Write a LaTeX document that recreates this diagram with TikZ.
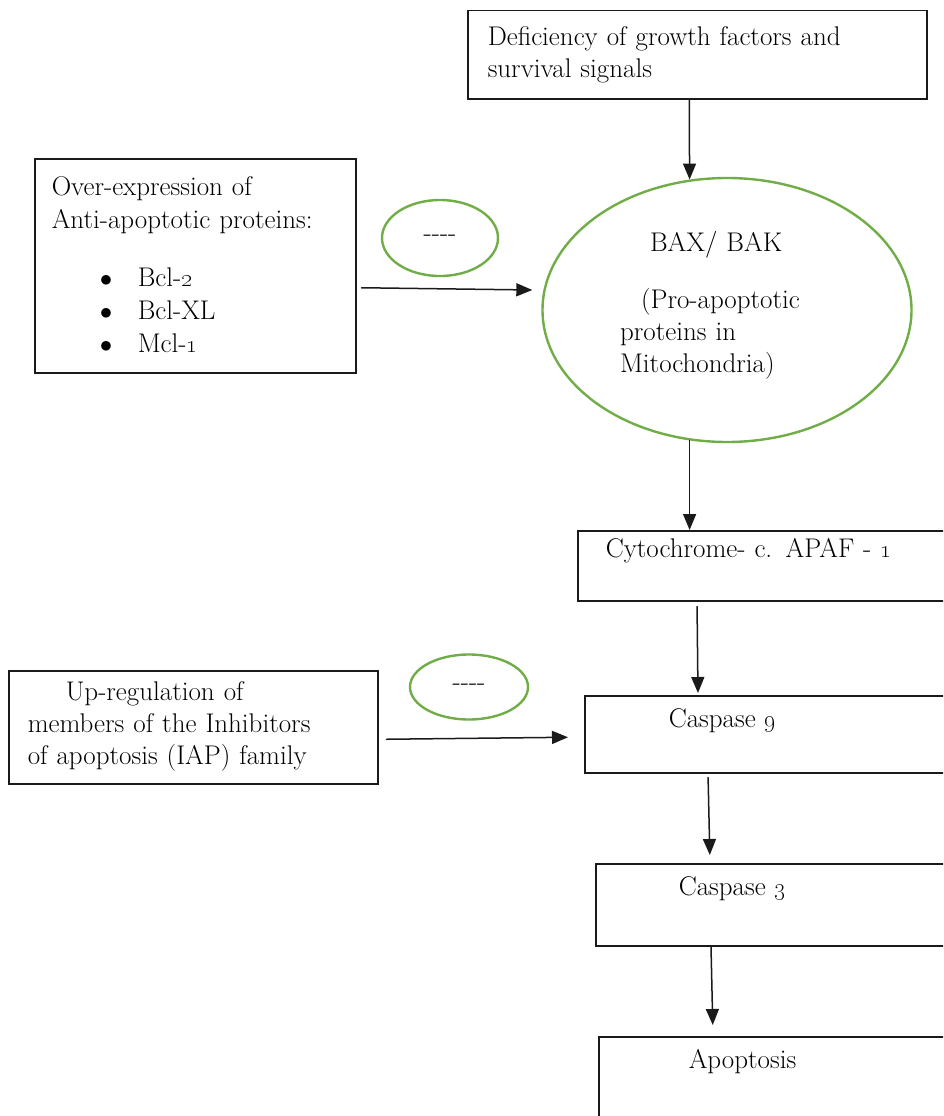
\documentclass[tikz,border=0pt]{standalone}
\usetikzlibrary{arrows.meta,calc,shapes.geometric}
\definecolor{apoGreen}{HTML}{70AD47}
\definecolor{apoDark}{HTML}{1A1A1A}

\begin{document}
\begin{tikzpicture}[x=1pt, y=-1pt, line cap=round,
    font=\fontsize{27}{32}\selectfont,
    apoBox/.style={draw=apoDark, line width=1.5pt, anchor=north west,
      align=left, inner ysep=0pt},
    apoOval/.style={draw=apoGreen, line width=2.4pt, ellipse, inner sep=0pt},
    apoArrow/.style={apoDark, line width=1.5pt,
      -{Triangle[length=16pt,width=13pt]}}]
  % page frame: the right-hand boxes run off the edge as in the source
  \useasboundingbox (0,0) rectangle (943,1116);
  \clip (0,0) rectangle (943,1116);

  % --- top: trigger and mitochondrial step ---
  \node[apoBox, inner xsep=20pt, text width=419pt, text height=35pt, text depth=53pt]
    (defic) at (467,10) {Deficiency of growth factors and\\survival signals};

  \node[apoBox, inner xsep=17pt, text width=287pt, text height=37pt, text depth=177pt]
    (overexp) at (34,158)
    {Over-expression of\\[1pt]Anti-apoptotic proteins:\\[26pt]
     \hspace*{48pt}\makebox[38pt][l]{$\bullet$}Bcl-\oldstylenums{2}\\[1pt]
     \hspace*{48pt}\makebox[38pt][l]{$\bullet$}Bcl-XL\\[1pt]
     \hspace*{48pt}\makebox[38pt][l]{$\bullet$}Mcl-\oldstylenums{1}};

  \node[apoOval, minimum width=116pt, minimum height=76pt] (block1) at (440,238) {-{}-{}-{}-};

  \node[apoOval, minimum width=369pt, minimum height=264pt, text width=214pt,
        align=left, text height=20pt, text depth=138pt]
    (baxbak) at (727,310)
    {\hspace*{30pt}BAX/ BAK\\[25pt]\hspace*{21pt}(Pro-apoptotic\\proteins in\\Mitochondria)};

  % --- caspase cascade ---
  \node[apoBox, inner xsep=28pt, text width=327pt, text height=27pt, text depth=43pt]
    (cyto) at (577,530) {Cytochrome- c. APAF - \oldstylenums{1}};

  \node[apoBox, inner xsep=19pt, text width=331pt, text height=30pt, text depth=83pt]
    (upreg) at (8,670)
    {\hspace*{38pt}Up-regulation of\\members of the Inhibitors\\of apoptosis (IAP) family};

  \node[apoOval, minimum width=118pt, minimum height=65pt] (block2) at (469,687) {-{}-{}-{}-};

  \node[apoBox, inner xsep=84pt, text width=208pt, text height=32pt, text depth=45pt]
    (casp9) at (584,695) {Caspase \oldstylenums{9}};
  \node[apoBox, inner xsep=83pt, text width=199pt, text height=32pt, text depth=50pt]
    (casp3) at (595,863) {Caspase \oldstylenums{3}};
  \node[apoBox, inner xsep=90pt, text width=182pt, text height=32pt, text depth=104pt]
    (apop) at (598,1036) {Apoptosis};

  % connectors
  \draw[apoArrow] ([xshift=-8pt]defic.south) -- (baxbak.106);
  \draw[apoArrow] ([xshift=5pt,yshift=-22pt]overexp.east)
    -- ([xshift=-9pt,yshift=20pt]baxbak.west);
  \draw[apoArrow] (baxbak.254) -- (baxbak.254 |- cyto.north);
  \draw[apoArrow, shorten <=5pt, shorten >=2pt]
    ([xshift=120pt]cyto.south west) -- ([xshift=114pt]casp9.north west);
  \draw[apoArrow] ([xshift=8pt,yshift=-12pt]upreg.east)
    -- ([xshift=-16pt,yshift=-3pt]casp9.west);
  \draw[apoArrow, shorten <=4pt, shorten >=8pt]
    ([xshift=124pt]casp9.south west) -- ([xshift=115pt]casp3.north west);
  \draw[apoArrow, shorten >=11pt]
    ([xshift=116pt]casp3.south west) -- ([xshift=115pt]apop.north west);
\end{tikzpicture}
\end{document}
